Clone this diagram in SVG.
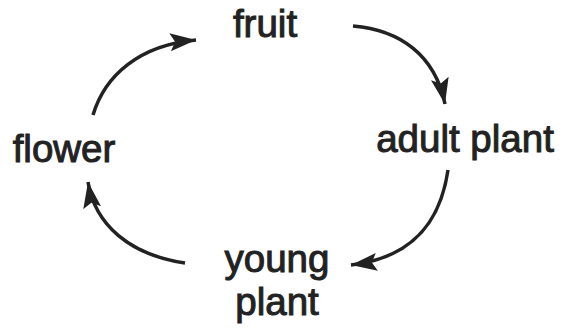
<svg xmlns="http://www.w3.org/2000/svg" width="563" height="329" viewBox="0 0 563 329">
<style>
.lbl{font-family:"Liberation Sans",Arial,sans-serif;font-size:38.5px;fill:#222;text-anchor:middle;stroke:#222;stroke-width:1}
.arr{fill:none;stroke:#222;stroke-width:3.5;stroke-linecap:butt;marker-end:url(#ah)}
</style>
<defs>
<marker id="ah" markerUnits="userSpaceOnUse" markerWidth="28" markerHeight="22" viewBox="0 0 28 22" refX="26" refY="11" orient="auto">
<path d="M0,2 L26,11 L0,20 L5,11 Z" fill="#222"/>
</marker>
</defs>
<rect width="563" height="329" fill="#fff"/>
<g id="connectors">
<path class="arr" d="M93,115 C105,75 140,45 196,40"/>
<path class="arr" d="M353,26 C400,30 435,55 445,104"/>
<path class="arr" d="M448,170 C440,225 410,258 351,265"/>
<path class="arr" d="M185,263 C130,255 95,225 88,182"/>
</g>
<g id="fruit"><text class="lbl" x="265" y="37">fruit</text></g>
<g id="adult-plant"><text class="lbl" x="465" y="152">adult plant</text></g>
<g id="young-plant"><text class="lbl" x="277" y="272">young</text><text class="lbl" x="277" y="315">plant</text></g>
<g id="flower"><text class="lbl" x="64" y="162">flower</text></g>
</svg>
